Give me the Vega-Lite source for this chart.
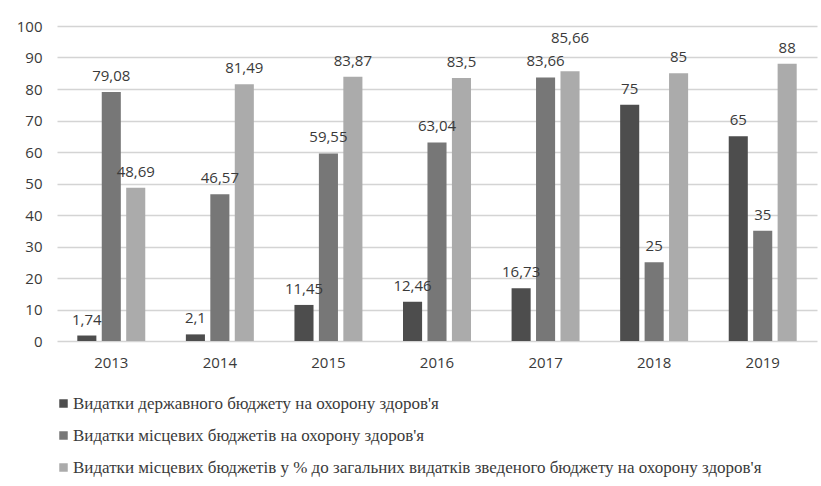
{
  "$schema": "https://vega.github.io/schema/vega-lite/v6.json",
  "width": 760,
  "height": 315,
  "autosize": {"type": "none"},
  "padding": {"left": 57, "top": 26, "right": 4, "bottom": 145},
  "background": "white",
  "config": {"view": {"stroke": null}, "font": "Open Sans"},
  "data": {
    "values": [
      {"year": "2013", "series": "Видатки державного бюджету на охорону здоров'я", "value": 1.74, "label": "1,74"},
      {"year": "2013", "series": "Видатки місцевих бюджетів на охорону здоров'я", "value": 79.08, "label": "79,08"},
      {"year": "2013", "series": "Видатки місцевих бюджетів у % до загальних видатків зведеного бюджету на охорону здоров'я", "value": 48.69, "label": "48,69"},
      {"year": "2014", "series": "Видатки державного бюджету на охорону здоров'я", "value": 2.1, "label": "2,1"},
      {"year": "2014", "series": "Видатки місцевих бюджетів на охорону здоров'я", "value": 46.57, "label": "46,57"},
      {"year": "2014", "series": "Видатки місцевих бюджетів у % до загальних видатків зведеного бюджету на охорону здоров'я", "value": 81.49, "label": "81,49"},
      {"year": "2015", "series": "Видатки державного бюджету на охорону здоров'я", "value": 11.45, "label": "11,45"},
      {"year": "2015", "series": "Видатки місцевих бюджетів на охорону здоров'я", "value": 59.55, "label": "59,55"},
      {"year": "2015", "series": "Видатки місцевих бюджетів у % до загальних видатків зведеного бюджету на охорону здоров'я", "value": 83.87, "label": "83,87"},
      {"year": "2016", "series": "Видатки державного бюджету на охорону здоров'я", "value": 12.46, "label": "12,46"},
      {"year": "2016", "series": "Видатки місцевих бюджетів на охорону здоров'я", "value": 63.04, "label": "63,04"},
      {"year": "2016", "series": "Видатки місцевих бюджетів у % до загальних видатків зведеного бюджету на охорону здоров'я", "value": 83.5, "label": "83,5"},
      {"year": "2017", "series": "Видатки державного бюджету на охорону здоров'я", "value": 16.73, "label": "16,73"},
      {"year": "2017", "series": "Видатки місцевих бюджетів на охорону здоров'я", "value": 83.66, "label": "83,66"},
      {"year": "2017", "series": "Видатки місцевих бюджетів у % до загальних видатків зведеного бюджету на охорону здоров'я", "value": 85.66, "label": "85,66"},
      {"year": "2018", "series": "Видатки державного бюджету на охорону здоров'я", "value": 75, "label": "75"},
      {"year": "2018", "series": "Видатки місцевих бюджетів на охорону здоров'я", "value": 25, "label": "25"},
      {"year": "2018", "series": "Видатки місцевих бюджетів у % до загальних видатків зведеного бюджету на охорону здоров'я", "value": 85, "label": "85"},
      {"year": "2019", "series": "Видатки державного бюджету на охорону здоров'я", "value": 65, "label": "65"},
      {"year": "2019", "series": "Видатки місцевих бюджетів на охорону здоров'я", "value": 35, "label": "35"},
      {"year": "2019", "series": "Видатки місцевих бюджетів у % до загальних видатків зведеного бюджету на охорону здоров'я", "value": 88, "label": "88"}
    ]
  },
  "encoding": {
    "x": {
      "field": "year", "type": "nominal",
      "scale": {"paddingInner": 0.374, "paddingOuter": 0.187},
      "axis": {"title": null, "labelAngle": 0, "domain": false, "ticks": false, "labelPadding": 14, "labelFontSize": 15, "labelColor": "#3a3a3a", "labelFont": "Open Sans"}
    },
    "xOffset": {
      "field": "series", "type": "nominal",
      "scale": {"paddingInner": 0.22, "domain": ["Видатки державного бюджету на охорону здоров'я", "Видатки місцевих бюджетів на охорону здоров'я", "Видатки місцевих бюджетів у % до загальних видатків зведеного бюджету на охорону здоров'я"]}
    },
    "y": {
      "field": "value", "type": "quantitative",
      "scale": {"domain": [0, 100], "nice": false},
      "axis": {"title": null, "values": [0,10,20,30,40,50,60,70,80,90,100], "domain": false, "ticks": false, "labelPadding": 15, "labelFontSize": 15, "labelColor": "#3a3a3a", "gridColor": "#d4d4d4", "gridWidth": 1.3, "labelFont": "Open Sans"}
    }
  },
  "layer": [
    {
      "mark": {"type": "bar"},
      "encoding": {
        "color": {
          "field": "series", "type": "nominal",
          "scale": {"domain": ["Видатки державного бюджету на охорону здоров'я", "Видатки місцевих бюджетів на охорону здоров'я", "Видатки місцевих бюджетів у % до загальних видатків зведеного бюджету на охорону здоров'я"], "range": ["#4d4d4d", "#777777", "#ababab"]},
          "legend": {
            "title": null, "orient": "none", "legendX": -2, "legendY": 369, "direction": "vertical",
            "symbolType": "square", "symbolSize": 72, "symbolStrokeWidth": 0,
            "labelFont": "Liberation Sans Narrow", "labelFontSize": 17, "labelColor": "#3a3a3a",
            "labelOffset": 1, "rowPadding": 14, "labelLimit": 0
          }
        }
      }
    },
    {
      "transform": [{"filter": "!(datum.year == '2017' && datum.value == 85.66)"}],
      "mark": {"type": "text", "baseline": "alphabetic", "dy": -11, "fontSize": 15, "color": "#3a3a3a", "font": "Open Sans"},
      "encoding": {"text": {"field": "label"}}
    },
    {
      "transform": [{"filter": "datum.year == '2017' && datum.value == 85.66"}],
      "mark": {"type": "text", "baseline": "alphabetic", "dy": -28, "fontSize": 15, "color": "#3a3a3a", "font": "Open Sans"},
      "encoding": {"text": {"field": "label"}}
    }
  ]
}
